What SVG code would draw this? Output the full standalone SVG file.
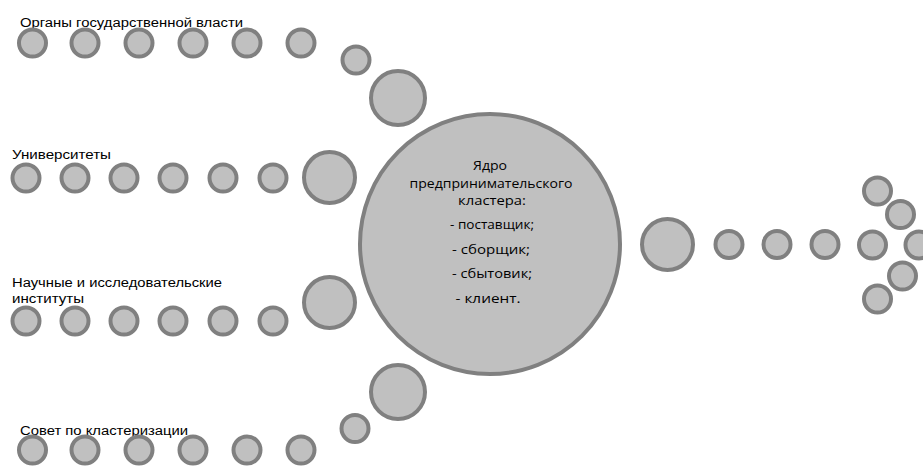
<svg xmlns="http://www.w3.org/2000/svg" width="923" height="466" viewBox="0 0 923 466">
<style>
.d{fill:#c0c0c0;stroke:#808080;stroke-width:4}
.lbl{font-family:"Liberation Sans","DejaVu Sans",sans-serif;font-size:12px;fill:#000}
.c1{font-family:"Open Sans","Liberation Sans",sans-serif;font-size:12px;fill:#000;text-anchor:middle}
.c2{font-family:"Open Sans","Liberation Sans",sans-serif;font-size:12.5px;fill:#000;text-anchor:middle}
</style>
<rect width="923" height="466" fill="#fff"/>
<g id="connectors"/>
<g id="gov">
<text class="lbl" x="20" y="27" textLength="223" lengthAdjust="spacingAndGlyphs">Органы государственной власти</text>
<circle class="d" cx="32.5" cy="43" r="13.5"/>
<circle class="d" cx="85" cy="43" r="13.5"/>
<circle class="d" cx="139" cy="43" r="13.5"/>
<circle class="d" cx="193" cy="43" r="13.5"/>
<circle class="d" cx="247" cy="43" r="13.5"/>
<circle class="d" cx="301" cy="43" r="13.5"/>
<circle class="d" cx="356" cy="60" r="13.5"/>
<circle class="d" cx="398" cy="98" r="27"/>
</g>
<g id="univ">
<text class="lbl" x="12" y="159" textLength="99" lengthAdjust="spacingAndGlyphs">Университеты</text>
<circle class="d" cx="26" cy="178" r="13.5"/>
<circle class="d" cx="75" cy="178" r="13.5"/>
<circle class="d" cx="124" cy="178" r="13.5"/>
<circle class="d" cx="173" cy="178" r="13.5"/>
<circle class="d" cx="223" cy="178" r="13.5"/>
<circle class="d" cx="273" cy="178" r="13.5"/>
<circle class="d" cx="329.5" cy="177.5" r="25.5"/>
</g>
<g id="inst">
<text class="lbl" x="12" y="287" textLength="210" lengthAdjust="spacingAndGlyphs">Научные и исследовательские</text>
<text class="lbl" x="12" y="303" textLength="72" lengthAdjust="spacingAndGlyphs">институты</text>
<circle class="d" cx="26" cy="321" r="13.5"/>
<circle class="d" cx="75" cy="321" r="13.5"/>
<circle class="d" cx="124" cy="321" r="13.5"/>
<circle class="d" cx="173" cy="321" r="13.5"/>
<circle class="d" cx="223" cy="321" r="13.5"/>
<circle class="d" cx="273" cy="321" r="13.5"/>
<circle class="d" cx="329.5" cy="302.5" r="25.5"/>
</g>
<g id="council">
<text class="lbl" x="20" y="435" textLength="168" lengthAdjust="spacingAndGlyphs">Совет по кластеризации</text>
<circle class="d" cx="32.5" cy="450" r="13.5"/>
<circle class="d" cx="85" cy="450" r="13.5"/>
<circle class="d" cx="139" cy="450" r="13.5"/>
<circle class="d" cx="193" cy="450" r="13.5"/>
<circle class="d" cx="247" cy="450" r="13.5"/>
<circle class="d" cx="301" cy="450" r="13.5"/>
<circle class="d" cx="355" cy="428.5" r="13.5"/>
<circle class="d" cx="398" cy="392" r="27"/>
</g>
<g id="core">
<circle class="d" cx="490" cy="244" r="130"/>
<text class="c1" x="490" y="170" textLength="34" lengthAdjust="spacingAndGlyphs">Ядро</text>
<text class="c1" x="491" y="188" textLength="163" lengthAdjust="spacingAndGlyphs">предпринимательского</text>
<text class="c1" x="492" y="205" textLength="68" lengthAdjust="spacingAndGlyphs">кластера:</text>
<text class="c2" x="492" y="229" textLength="84" lengthAdjust="spacingAndGlyphs">- поставщик;</text>
<text class="c2" x="491" y="254" textLength="78" lengthAdjust="spacingAndGlyphs">- сборщик;</text>
<text class="c2" x="492" y="278" textLength="80" lengthAdjust="spacingAndGlyphs">- сбытовик;</text>
<text class="c2" x="488" y="303" textLength="65" lengthAdjust="spacingAndGlyphs">- клиент.</text>
</g>
<g id="output">
<circle class="d" cx="667.5" cy="244.5" r="25.5"/>
<circle class="d" cx="729" cy="244.5" r="13.5"/>
<circle class="d" cx="777" cy="244.5" r="13.5"/>
<circle class="d" cx="825" cy="244.5" r="13.5"/>
<circle class="d" cx="872.5" cy="245" r="13.5"/>
<circle class="d" cx="919" cy="245" r="13.5"/>
<circle class="d" cx="877.5" cy="191" r="13.5"/>
<circle class="d" cx="900.5" cy="214.5" r="13.5"/>
<circle class="d" cx="902.5" cy="276" r="13.5"/>
<circle class="d" cx="877.5" cy="299" r="13.5"/>
</g>
</svg>
